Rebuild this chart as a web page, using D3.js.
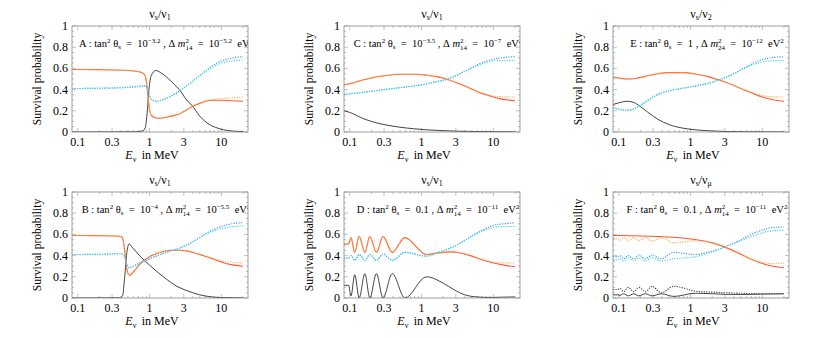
<!doctype html>
<html lang="en">
<head>
<meta charset="utf-8">
<title>Survival probability panels</title>
<script src="https://cdnjs.cloudflare.com/ajax/libs/d3/7.8.5/d3.min.js"></script>
<style>
body{margin:0;background:#fff}
svg text{font-family:"Liberation Serif","Times New Roman",Times,serif;fill:#000}
</style>
</head>
<body>
<svg width="830" height="338"></svg>
<script>
// ---- data : [E in MeV, probability] ----
const xTicks=[0.1,0.3,1,3,10];
const yTicks=[0,0.2,0.4,0.6,0.8,1];

// panel A
const aRed=[[0.083,0.59],[0.2,0.588],[0.4,0.583],[0.6,0.575],[0.75,0.565],[0.83,0.55],[0.88,0.52],[0.93,0.4],[0.98,0.25],[1.05,0.16],[1.2,0.135],[1.4,0.13],[2,0.15],[2.6,0.17],[3.5,0.22],[4.2,0.25],[5,0.27],[6,0.29],[7.5,0.3],[10,0.3],[14,0.295],[20,0.29]];
const aOrange=[[0.083,0.59],[0.2,0.588],[0.4,0.583],[0.6,0.575],[0.75,0.565],[0.83,0.55],[0.88,0.52],[0.93,0.4],[0.98,0.25],[1.05,0.16],[1.2,0.135],[1.4,0.13],[2,0.15],[2.6,0.17],[3.5,0.22],[4.2,0.25],[5,0.27],[6,0.29],[7.5,0.305],[10,0.315],[14,0.322],[20,0.33]];
const aCyan=[[0.083,0.41],[0.3,0.415],[0.6,0.425],[0.83,0.435],[0.9,0.43],[0.97,0.37],[1.05,0.31],[1.25,0.29],[1.6,0.31],[2,0.34],[2.8,0.4],[4,0.48],[5.5,0.55],[7.5,0.61],[10,0.65],[14,0.67],[20,0.68]];
const aBlue=[[0.083,0.41],[0.3,0.415],[0.6,0.425],[0.83,0.435],[0.9,0.43],[0.97,0.37],[1.05,0.31],[1.25,0.29],[1.6,0.31],[2,0.34],[2.8,0.4],[4,0.48],[5.5,0.555],[7.5,0.625],[10,0.67],[14,0.697],[20,0.71]];
const aBlack=[[0.083,0],[0.6,0.002],[0.8,0.01],[0.87,0.04],[0.93,0.2],[0.98,0.4],[1.05,0.53],[1.22,0.58],[1.5,0.55],[2.2,0.45],[2.6,0.4],[3.3,0.3],[3.9,0.25],[5,0.15],[6.5,0.08],[9,0.035],[13,0.012],[20,0.004]];

// panel B
const bRed=[[0.083,0.59],[0.2,0.588],[0.35,0.585],[0.41,0.575],[0.44,0.5],[0.47,0.33],[0.5,0.23],[0.53,0.215],[0.6,0.25],[0.73,0.32],[1,0.39],[1.4,0.43],[2,0.45],[2.6,0.45],[3.5,0.44],[5,0.41],[7.5,0.37],[11,0.33],[15,0.31],[20,0.3]];
const bOrange=[[0.083,0.59],[0.2,0.588],[0.35,0.585],[0.41,0.575],[0.44,0.5],[0.47,0.33],[0.5,0.23],[0.53,0.215],[0.6,0.25],[0.73,0.32],[1,0.39],[1.4,0.43],[2,0.45],[2.6,0.45],[3.5,0.44],[5,0.415],[7.5,0.375],[11,0.345],[15,0.335],[20,0.33]];
const bCyan=[[0.083,0.41],[0.3,0.415],[0.4,0.42],[0.44,0.4],[0.48,0.32],[0.52,0.285],[0.6,0.3],[0.73,0.33],[1,0.37],[1.7,0.43],[2.6,0.47],[4,0.53],[6,0.6],[10,0.655],[14,0.672],[20,0.68]];
const bBlue=[[0.083,0.41],[0.3,0.415],[0.4,0.42],[0.44,0.4],[0.48,0.32],[0.52,0.285],[0.6,0.3],[0.73,0.33],[1,0.37],[1.7,0.43],[2.6,0.47],[4,0.53],[6,0.605],[10,0.675],[14,0.7],[20,0.71]];
const bBlack=[[0.083,0],[0.38,0.002],[0.42,0.02],[0.45,0.2],[0.48,0.42],[0.52,0.51],[0.57,0.48],[0.75,0.39],[1,0.31],[1.7,0.18],[2.4,0.11],[3.3,0.07],[5,0.03],[7,0.012],[10,0.004],[20,0.001]];

// panel C
const cRed=[[0.083,0.445],[0.1,0.455],[0.15,0.49],[0.2,0.51],[0.3,0.53],[0.5,0.545],[0.8,0.545],[1.2,0.535],[1.7,0.52],[2.3,0.495],[3.2,0.46],[4.5,0.42],[6.5,0.37],[9,0.34],[13,0.31],[20,0.295]];
const cOrange=[[0.083,0.445],[0.1,0.455],[0.15,0.49],[0.2,0.51],[0.3,0.53],[0.5,0.545],[0.8,0.545],[1.2,0.535],[1.7,0.52],[2.3,0.495],[3.2,0.46],[4.5,0.42],[6.5,0.375],[9,0.345],[13,0.333],[20,0.33]];
const cCyan=[[0.083,0.355],[0.1,0.36],[0.2,0.385],[0.35,0.405],[0.6,0.425],[1,0.445],[1.5,0.47],[2.3,0.5],[3.2,0.54],[4.5,0.59],[6.5,0.635],[9,0.665],[13,0.675],[20,0.675]];
const cBlue=[[0.083,0.355],[0.1,0.36],[0.2,0.385],[0.35,0.405],[0.6,0.425],[1,0.445],[1.5,0.47],[2.3,0.5],[3.2,0.54],[4.5,0.59],[6.5,0.645],[9,0.68],[13,0.7],[20,0.71]];
const cBlack=[[0.083,0.2],[0.1,0.185],[0.15,0.13],[0.2,0.1],[0.3,0.07],[0.5,0.045],[0.8,0.03],[1.2,0.02],[2,0.013],[3,0.008],[5,0.005],[10,0.003],[20,0.002]];

// panel D
const dRed=[[0.083,0.51],[0.096,0.51],[0.104,0.57],[0.117,0.43],[0.135,0.58],[0.162,0.43],[0.19,0.58],[0.235,0.43],[0.29,0.58],[0.39,0.43],[0.585,0.57],[1.17,0.41],[1.7,0.425],[2.5,0.435],[3.5,0.425],[5,0.395],[7,0.36],[10,0.33],[14,0.31],[20,0.295]];
const dOrange=[[0.083,0.51],[0.096,0.51],[0.104,0.57],[0.117,0.43],[0.135,0.58],[0.162,0.43],[0.19,0.58],[0.235,0.43],[0.29,0.58],[0.39,0.43],[0.585,0.57],[1.17,0.41],[1.7,0.425],[2.5,0.435],[3.5,0.425],[5,0.4],[7,0.365],[10,0.34],[14,0.332],[20,0.33]];
const dCyan=[[0.083,0.375],[0.096,0.375],[0.104,0.4],[0.117,0.355],[0.135,0.41],[0.162,0.355],[0.19,0.41],[0.235,0.355],[0.29,0.415],[0.39,0.355],[0.585,0.43],[1.17,0.395],[1.7,0.43],[2.5,0.47],[3.5,0.52],[5,0.58],[7,0.63],[10,0.665],[14,0.675],[20,0.675]];
const dBlue=[[0.083,0.375],[0.096,0.375],[0.104,0.4],[0.117,0.355],[0.135,0.41],[0.162,0.355],[0.19,0.41],[0.235,0.355],[0.29,0.415],[0.39,0.355],[0.585,0.43],[1.17,0.395],[1.7,0.43],[2.5,0.47],[3.5,0.52],[5,0.585],[7,0.64],[10,0.685],[14,0.7],[20,0.71]];
const dBlack=[[0.083,0.12],[0.096,0.12],[0.104,0.02],[0.117,0.22],[0.135,0],[0.162,0.23],[0.19,0],[0.235,0.23],[0.29,0],[0.39,0.23],[0.585,0],[1.17,0.2],[2,0.14],[2.8,0.08],[4,0.03],[6,0.01],[9,0.005],[14,0.008],[20,0.01]];

// panel E
const eRed=[[0.083,0.515],[0.1,0.51],[0.13,0.5],[0.17,0.505],[0.25,0.53],[0.35,0.55],[0.5,0.56],[0.8,0.56],[1.2,0.545],[1.7,0.525],[2.5,0.49],[3.5,0.455],[5,0.41],[7,0.37],[10,0.33],[14,0.305],[20,0.29]];
const eOrange=[[0.083,0.515],[0.1,0.51],[0.13,0.5],[0.17,0.505],[0.25,0.53],[0.35,0.55],[0.5,0.56],[0.8,0.56],[1.2,0.545],[1.7,0.525],[2.5,0.49],[3.5,0.455],[5,0.41],[7,0.375],[10,0.343],[14,0.332],[20,0.33]];
const eCyan=[[0.083,0.23],[0.1,0.215],[0.12,0.205],[0.15,0.21],[0.18,0.235],[0.22,0.27],[0.3,0.33],[0.4,0.37],[0.6,0.4],[0.9,0.42],[1.3,0.44],[2,0.47],[2.7,0.5],[4,0.55],[6,0.61],[9,0.655],[13,0.672],[20,0.675]];
const eBlue=[[0.083,0.23],[0.1,0.215],[0.12,0.205],[0.15,0.21],[0.18,0.235],[0.22,0.27],[0.3,0.33],[0.4,0.37],[0.6,0.4],[0.9,0.42],[1.3,0.44],[2,0.47],[2.7,0.5],[4,0.55],[6,0.615],[9,0.675],[13,0.7],[20,0.71]];
const eBlack=[[0.083,0.26],[0.1,0.275],[0.13,0.29],[0.16,0.28],[0.2,0.24],[0.25,0.19],[0.35,0.12],[0.5,0.07],[0.8,0.035],[1.2,0.02],[2,0.01],[3,0.005],[6,0.002],[20,0.001]];

// panel F
const fRed=[[0.083,0.59],[0.2,0.585],[0.4,0.578],[0.7,0.568],[1.2,0.55],[2,0.52],[3,0.48],[4.5,0.43],[7,0.365],[10,0.325],[14,0.3],[20,0.285]];
const fOrange=[[0.083,0.56],[0.096,0.56],[0.104,0.545],[0.117,0.57],[0.135,0.54],[0.162,0.57],[0.19,0.54],[0.235,0.57],[0.29,0.535],[0.39,0.57],[0.585,0.52],[1.17,0.54],[1.7,0.53],[2.5,0.5],[3.5,0.46],[5,0.41],[7,0.365],[10,0.335],[14,0.325],[20,0.33]];
const fBlue=[[0.083,0.39],[0.096,0.39],[0.104,0.4],[0.117,0.37],[0.135,0.4],[0.162,0.37],[0.19,0.405],[0.235,0.37],[0.29,0.405],[0.39,0.37],[0.585,0.43],[1.17,0.41],[1.7,0.43],[2.5,0.46],[3.5,0.5],[5,0.55],[7,0.6],[10,0.64],[14,0.665],[20,0.67]];
const fCyan=[[0.083,0.36],[0.096,0.36],[0.104,0.37],[0.117,0.35],[0.135,0.38],[0.162,0.35],[0.19,0.38],[0.235,0.35],[0.29,0.38],[0.39,0.35],[0.585,0.37],[1.17,0.39],[1.7,0.42],[2.5,0.46],[3.5,0.5],[5,0.54],[7,0.58],[10,0.615],[14,0.635],[20,0.64]];
const fBlackDot=[[0.083,0.08],[0.096,0.08],[0.104,0.09],[0.117,0.06],[0.135,0.1],[0.162,0.06],[0.19,0.1],[0.235,0.06],[0.29,0.11],[0.39,0.05],[0.585,0.11],[1.17,0.065],[2,0.055],[3,0.05],[5,0.045],[10,0.04],[20,0.04]];
const fBlack=[[0.083,0.03],[0.096,0.03],[0.104,0.025],[0.117,0.04],[0.135,0.02],[0.162,0.04],[0.19,0.02],[0.235,0.04],[0.29,0.02],[0.39,0.04],[0.585,0.015],[1.17,0.045],[2,0.04],[3,0.035],[5,0.033],[10,0.037],[20,0.04]];

// labels
const titles=[["s","1"],["s","1"],["s","1"],["s","1"],["s","2"],["s","\u03bc"]];
const annos=[
 {L:"A",t:"10",te:"\u22123.2",mi:"14",m:"10",me:"\u22125.2"},
 {L:"B",t:"10",te:"\u22124",mi:"14",m:"10",me:"\u22125.5"},
 {L:"C",t:"10",te:"\u22123.5",mi:"14",m:"10",me:"\u22127"},
 {L:"D",t:"0.1",te:"",mi:"14",m:"10",me:"\u221211"},
 {L:"E",t:"1",te:"",mi:"24",m:"10",me:"\u221212"},
 {L:"F",t:"0.1",te:"",mi:"14",m:"10",me:"\u221211"}
];

const colors={red:"#ff5533",orange:"#ffa84a",cyan:"#3fd6ee",blue:"#4595ff",black:"#222",gray:"#444"};

const panels=[
 {col:0,row:0,series:[[aBlack,"black",0],[aRed,"red",0],[aOrange,"orange",1],[aBlue,"blue",1],[aCyan,"cyan",1]]},
 {col:0,row:1,series:[[bBlack,"black",0],[bRed,"red",0],[bOrange,"orange",1],[bBlue,"blue",1],[bCyan,"cyan",1]]},
 {col:1,row:0,series:[[cBlack,"black",0],[cRed,"red",0],[cOrange,"orange",1],[cBlue,"blue",1],[cCyan,"cyan",1]]},
 {col:1,row:1,series:[[dBlack,"black",0],[dRed,"red",0],[dOrange,"orange",1],[dBlue,"blue",1],[dCyan,"cyan",1]]},
 {col:2,row:0,series:[[eBlack,"black",0],[eRed,"red",0],[eOrange,"orange",1],[eBlue,"blue",1],[eCyan,"cyan",1]]},
 {col:2,row:1,series:[[fBlack,"black",0],[fBlackDot,"gray",1],[fRed,"red",0],[fOrange,"orange",1],[fBlue,"blue",1],[fCyan,"cyan",1]]}
];

const colX=[72,344,613];
const rowY=[26,192];
const pw=176, ph=106;

const svg=d3.select("svg");

panels.forEach((p,i)=>{
 const x0=colX[p.col], y0=rowY[p.row];
 const x=d3.scaleLog().domain([0.083,23.5]).range([x0,x0+pw]);
 const y=d3.scaleLinear().domain([0,1]).range([y0+ph,y0]);
 const g=svg.append("g");

 g.append("clipPath").attr("id","clip"+i)
  .append("rect").attr("x",x0).attr("y",y0).attr("width",pw).attr("height",ph);

 // ticks on the frame
 const minorX=[0.2,0.4,0.5,0.6,0.7,0.8,0.9,2,4,5,6,7,8,9,20];
 const minorY=d3.range(0.05,1,0.05).filter(v=>Math.abs(v*5-Math.round(v*5))>0.01);
 const tk=g.append("g").attr("stroke","#999").attr("stroke-width",0.6);
 xTicks.forEach(v=>{
  tk.append("line").attr("x1",x(v)).attr("x2",x(v)).attr("y1",y0+ph).attr("y2",y0+ph-4);
  tk.append("line").attr("x1",x(v)).attr("x2",x(v)).attr("y1",y0).attr("y2",y0+4);
 });
 minorX.forEach(v=>{
  tk.append("line").attr("x1",x(v)).attr("x2",x(v)).attr("y1",y0+ph).attr("y2",y0+ph-2);
  tk.append("line").attr("x1",x(v)).attr("x2",x(v)).attr("y1",y0).attr("y2",y0+2);
 });
 yTicks.forEach(v=>{
  tk.append("line").attr("x1",x0).attr("x2",x0+4).attr("y1",y(v)).attr("y2",y(v));
  tk.append("line").attr("x1",x0+pw).attr("x2",x0+pw-4).attr("y1",y(v)).attr("y2",y(v));
 });
 minorY.forEach(v=>{
  tk.append("line").attr("x1",x0).attr("x2",x0+2).attr("y1",y(v)).attr("y2",y(v));
  tk.append("line").attr("x1",x0+pw).attr("x2",x0+pw-2).attr("y1",y(v)).attr("y2",y(v));
 });

 // curves
 const line=d3.line().x(d=>x(d[0])).y(d=>y(d[1])).curve(d3.curveMonotoneX);
 const cg=g.append("g").attr("clip-path",`url(#clip${i})`);
 p.series.forEach(s=>{
  cg.append("path").attr("d",line(s[0])).attr("fill","none")
   .attr("stroke",colors[s[1]])
   .attr("stroke-width",s[1]=="black"?0.85:(s[2]?1.15:1.1))
   .attr("stroke-dasharray",s[2]?"1.2,1.3":null);
 });

 // frame
 g.append("rect").attr("x",x0).attr("y",y0).attr("width",pw).attr("height",ph)
  .attr("fill","none").attr("stroke","#888").attr("stroke-width",0.8);

 // tick labels
 xTicks.forEach(v=>{
  g.append("text").attr("x",x(v)).attr("y",y0+ph+14).attr("text-anchor","middle")
   .style("font-size","12px").text(v);
 });
 yTicks.forEach(v=>{
  g.append("text").attr("x",x0-4).attr("y",y(v)+4).attr("text-anchor","end")
   .style("font-size","12px").text(v);
 });

 // axis titles
 g.append("text").attr("transform",`translate(${x0-31},${y0+ph/2}) rotate(-90)`)
  .attr("text-anchor","middle").style("font-size","11.5px").text("Survival probability");
 const xl=g.append("text").attr("x",x0+pw/2-8).attr("y",y0+ph+27).attr("text-anchor","middle")
  .style("font-size","12px");
 xl.append("tspan").style("font-style","italic").text("E");
 xl.append("tspan").attr("dy",3).style("font-size","8px").text("\u03bd");
 xl.append("tspan").attr("dy",-3).text("\u2009 in MeV");

 // panel title
 const tt=g.append("text").attr("x",x0+pw/2).attr("y",y0-8).attr("text-anchor","middle")
  .style("font-size","12px");
 tt.append("tspan").text("\u03bd");
 tt.append("tspan").attr("dy",2).style("font-size","8px").text(titles[i][0]);
 tt.append("tspan").attr("dy",-2).text("/\u03bd");
 tt.append("tspan").attr("dy",2).style("font-size","8px").text(titles[i][1]);

 // annotation
 const a=annos[i];
 const an=g.append("text").attr("x",x0+pw/2+6).attr("y",y0+21).attr("text-anchor","middle")
  .attr("clip-path",`url(#clip${i})`).style("font-size","10.5px").style("white-space","pre");
 an.append("tspan").text(a.L+" : tan");
 an.append("tspan").attr("dy",-4).style("font-size","7px").text("2");
 an.append("tspan").attr("dy",4).text(" \u03b8");
 an.append("tspan").attr("dy",2).style("font-size","7px").text("s");
 an.append("tspan").attr("dy",-2).text("  =  "+a.t);
 if(a.te){
  an.append("tspan").attr("dy",-4).style("font-size","7px").text(a.te);
  an.append("tspan").attr("dy",4).text(" , \u0394");
 } else {
  an.append("tspan").text(" , \u0394");
 }
 an.append("tspan").style("font-style","italic").text(" m");
 an.append("tspan").attr("dy",-4).style("font-size","7px").text("2");
 an.append("tspan").attr("dx",-3.5).attr("dy",7).style("font-size","7px").text(a.mi);
 an.append("tspan").attr("dy",-3).text("  =  "+a.m);
 an.append("tspan").attr("dy",-4).style("font-size","7px").text(a.me);
 an.append("tspan").attr("dy",4).text("  eV");
 an.append("tspan").attr("dy",-4).style("font-size","7px").text("2");
});
</script>
</body>
</html>
